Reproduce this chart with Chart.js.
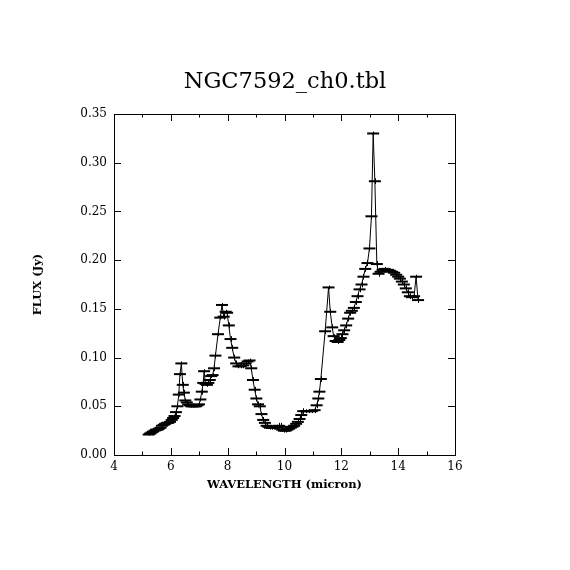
<!DOCTYPE html>
<html>
<head>
<meta charset="utf-8">
<script src="https://cdn.jsdelivr.net/npm/chart.js@4/dist/chart.umd.min.js"></script>
<style>
html,body{margin:0;padding:0;background:#fff;}
#wrap{width:570px;height:570px;position:relative;}
</style>
</head>
<body>
<div id="wrap"><canvas id="c" width="570" height="570"></canvas></div>
<script>
const chartTitle = "NGC7592_ch0.tbl";
const xTitle = "WAVELENGTH (micron)";
const yTitle = "FLUX (Jy)";

const wavelength = [
5.22,5.27,5.32,5.37,5.43,5.48,5.53,5.58,5.64,5.69,5.75,5.80,5.86,5.91,5.97,
6.03,6.08,6.13,6.18,6.23,6.28,6.32,6.37,6.42,6.46,6.51,6.56,6.61,6.66,6.72,
6.77,6.83,6.88,6.94,6.99,7.04,7.09,7.14,7.17,7.22,7.27,7.32,7.37,7.42,7.47,
7.52,7.57,7.66,7.74,7.80,7.86,7.93,7.98,8.04,8.10,8.16,8.23,8.30,8.38,8.46,
8.55,8.63,8.70,8.77,8.83,8.89,8.95,9.01,9.07,9.13,9.19,9.25,9.31,9.37,9.43,
9.49,9.56,9.62,9.68,9.74,9.80,9.86,9.92,9.98,10.04,10.10,10.16,10.22,10.28,10.34,
10.41,10.47,10.53,10.59,10.66,10.76,10.86,10.96,11.06,11.13,11.19,11.23,11.28,11.43,11.55,
11.61,11.68,11.73,11.80,11.87,11.93,11.98,12.04,12.10,12.17,12.24,12.31,12.37,12.44,12.51,
12.57,12.64,12.71,12.78,12.84,12.92,12.99,13.06,13.12,13.18,13.25,13.31,13.38,13.45,13.52,
13.59,13.65,13.72,13.79,13.86,13.93,14.00,14.06,14.13,14.20,14.27,14.34,14.41,14.48,14.56,
14.63,14.70
];
const flux = [
0.021,0.022,0.023,0.024,0.025,0.026,0.026,0.027,0.028,0.030,0.031,0.032,0.033,0.033,0.034,
0.036,0.038,0.040,0.044,0.050,0.062,0.083,0.094,0.072,0.064,0.056,0.054,0.052,0.051,0.050,
0.050,0.050,0.050,0.051,0.052,0.057,0.065,0.074,0.086,0.073,0.072,0.074,0.077,0.081,0.082,
0.089,0.102,0.124,0.141,0.154,0.142,0.147,0.146,0.133,0.119,0.110,0.100,0.094,0.091,0.091,
0.092,0.094,0.096,0.097,0.089,0.077,0.067,0.058,0.052,0.050,0.042,0.036,0.033,0.030,0.029,
0.028,0.028,0.028,0.028,0.029,0.030,0.029,0.026,0.025,0.025,0.026,0.027,0.028,0.029,0.030,
0.032,0.034,0.037,0.041,0.045,0.045,0.045,0.045,0.046,0.051,0.058,0.065,0.078,0.127,0.172,
0.147,0.131,0.122,0.117,0.116,0.118,0.120,0.124,0.128,0.133,0.140,0.146,0.148,0.151,0.157,
0.163,0.170,0.175,0.183,0.191,0.197,0.212,0.245,0.330,0.281,0.196,0.186,0.188,0.190,0.191,
0.190,0.190,0.189,0.188,0.187,0.185,0.183,0.181,0.178,0.175,0.171,0.167,0.163,0.162,0.163,
0.183,0.159
];
const fluxErr = [
0.001,0.001,0.001,0.001,0.001,0.001,0.001,0.001,0.001,0.001,0.001,0.001,0.001,0.001,0.001,
0.002,0.002,0.002,0.003,0.003,0.002,0.002,0.002,0.003,0.003,0.002,0.002,0.001,0.001,0.001,
0.001,0.001,0.001,0.001,0.001,0.002,0.003,0.002,0.002,0.002,0.002,0.002,0.002,0.002,0.002,
0.003,0.003,0.002,0.002,0.002,0.003,0.002,0.002,0.003,0.003,0.003,0.003,0.003,0.002,0.002,
0.003,0.002,0.002,0.002,0.003,0.003,0.003,0.003,0.003,0.003,0.002,0.003,0.003,0.003,0.002,
0.002,0.002,0.002,0.002,0.002,0.003,0.004,0.002,0.002,0.002,0.002,0.002,0.002,0.002,0.002,
0.003,0.003,0.003,0.003,0.003,0.002,0.002,0.002,0.003,0.003,0.003,0.003,0.003,0.003,0.002,
0.003,0.003,0.002,0.002,0.002,0.002,0.003,0.003,0.003,0.003,0.003,0.003,0.003,0.003,0.003,
0.003,0.003,0.003,0.003,0.003,0.003,0.003,0.003,0.002,0.003,0.003,0.003,0.002,0.002,0.002,
0.002,0.002,0.002,0.002,0.002,0.003,0.003,0.003,0.003,0.003,0.003,0.003,0.003,0.002,0.002,
0.002,0.003
];
const xTicks = [4,6,8,10,12,14,16];
const xMinorTicks = [5,7,9,11,13,15];
const yTicks = [0,0.05,0.10,0.15,0.20,0.25,0.30,0.35];

const points = wavelength.map((w,i)=>({x:w,y:flux[i]}));

const serif = "'DejaVu Serif', 'Liberation Serif', serif";

const errAndTicks = {
  id:'errAndTicks',
  afterDatasetsDraw(chart){
    const ctx = chart.ctx;
    const xs = chart.scales.x, ys = chart.scales.y;
    const a = chart.chartArea;
    ctx.save();
    ctx.strokeStyle = '#000';
    ctx.lineWidth = 1;
    // vertical error bars
    ctx.beginPath();
    wavelength.forEach((w,i)=>{
      const px = Math.round(xs.getPixelForValue(w))+0.5;
      ctx.moveTo(px, ys.getPixelForValue(flux[i]-fluxErr[i]));
      ctx.lineTo(px, ys.getPixelForValue(flux[i]+fluxErr[i]));
    });
    ctx.stroke();
    // inward ticks
    ctx.beginPath();
    const maj = 7, mn = 3.5;
    xTicks.forEach(v=>{
      const px = Math.round(xs.getPixelForValue(v))+0.5;
      ctx.moveTo(px,a.bottom); ctx.lineTo(px,a.bottom-maj);
      ctx.moveTo(px,a.top); ctx.lineTo(px,a.top+maj);
    });
    xMinorTicks.forEach(v=>{
      const px = Math.round(xs.getPixelForValue(v))+0.5;
      ctx.moveTo(px,a.bottom); ctx.lineTo(px,a.bottom-mn);
      ctx.moveTo(px,a.top); ctx.lineTo(px,a.top+mn);
    });
    yTicks.forEach(v=>{
      const py = Math.round(ys.getPixelForValue(v))+0.5;
      ctx.moveTo(a.left,py); ctx.lineTo(a.left+maj,py);
      ctx.moveTo(a.right,py); ctx.lineTo(a.right-maj,py);
    });
    ctx.stroke();
    // frame
    ctx.strokeRect(Math.round(a.left)+0.5, Math.round(a.top)+0.5, Math.round(a.right-a.left), Math.round(a.bottom-a.top));
    ctx.restore();
  }
};

new Chart(document.getElementById('c'), {
  type:'line',
  data:{
    datasets:[{
      data:points,
      borderColor:'#000',
      borderWidth:1,
      tension:0,
      pointStyle:'line',
      pointRadius:6,
      pointBorderWidth:2,
      pointBorderColor:'#000',
      pointBackgroundColor:'#000',
      pointHoverRadius:6,
      fill:false
    }]
  },
  options:{
    responsive:false,
    animation:false,
    devicePixelRatio:1,
    events:[],
    layout:{padding:{left:0,right:0,top:0,bottom:0}},
    plugins:{
      legend:{display:false},
      tooltip:{enabled:false},
      title:{
        display:true,
        text:chartTitle,
        color:'#000',
        font:{family:serif,size:22.5,weight:'normal'},
        lineHeight:1.2,
        padding:{top:69,bottom:18}
      }
    },
    scales:{
      x:{
        type:'linear',
        min:4,max:16,
        afterFit(s){ s.height = 115; },
        afterBuildTicks(s){ s.ticks = xTicks.map(v=>({value:v})); },
        grid:{display:false,drawTicks:false},
        border:{display:false},
        ticks:{color:'#000',font:{family:serif,size:12},padding:5,maxRotation:0,autoSkip:false,
          callback:(v)=>String(v)},
        title:{display:true,text:xTitle,color:'#000',font:{family:serif,size:11.5,weight:'bold'},padding:{top:0,bottom:78}}
      },
      y:{
        type:'linear',
        min:0,max:0.35,
        afterFit(s){ s.width = 114; },
        afterBuildTicks(s){ s.ticks = yTicks.map(v=>({value:v})); },
        grid:{display:false,drawTicks:false},
        border:{display:false},
        ticks:{color:'#000',font:{family:serif,size:12},padding:7,autoSkip:false,
          callback:(v)=>v.toFixed(2)},
        title:{display:true,text:yTitle,color:'#000',font:{family:serif,size:11.5,weight:'bold'},padding:{top:31,bottom:0}}
      },
      yRight:{
        type:'linear',
        position:'right',
        min:0,max:0.35,
        afterFit(s){ s.width = 115; },
        grid:{display:false,drawTicks:false},
        border:{display:false},
        ticks:{display:false},
        title:{display:false}
      }
    }
  },
  plugins:[errAndTicks]
});
</script>
</body>
</html>
